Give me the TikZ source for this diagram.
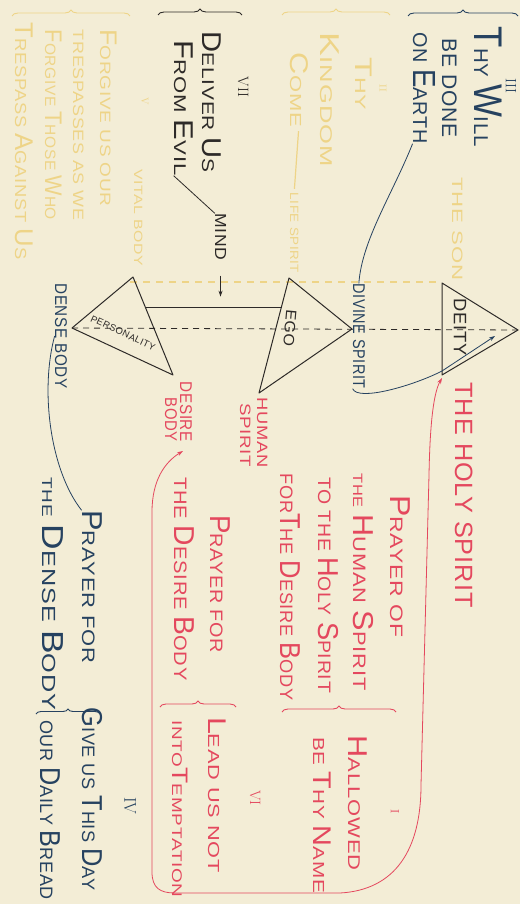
\documentclass[tikz,border=0pt]{standalone}
\usepackage{fontspec}
\usepackage{graphicx}
\usetikzlibrary{decorations.pathreplacing,arrows.meta}
\newfontfamily\hand{Liberation Sans}[LetterSpace=4]
\definecolor{bgc}{RGB}{243,237,214}
\definecolor{cblue}{RGB}{38,66,96}
\definecolor{cdark}{RGB}{45,42,40}
\definecolor{cred}{RGB}{228,72,94}
\definecolor{cyel}{RGB}{238,212,135}
\newcommand\Ini[1]{\scalebox{1.4}[1.6]{#1}}
\newcommand\Sm[1]{\scalebox{0.75}{#1}}
\newcommand\Wd[2]{\resizebox{#1pt}{\height}{#2}}
\begin{document}
\begin{tikzpicture}[x=1pt,y=-1pt,
  lbl/.style={rotate=-90,anchor=base,inner sep=0pt,font=\hand\fontsize{#1}{#1}\selectfont},
  num/.style={rotate=-90,anchor=center,inner sep=0pt,font=\fontsize{#1}{#1}\selectfont},
  tri/.style={cdark,line width=1pt,line join=round},
  brc/.style={decorate,decoration={brace,amplitude=#1,aspect=0.5},line width=0.9pt},
  arr/.style={-{Stealth[length=6pt,width=4pt]}},
  thinl/.style={line width=0.8pt}]
\useasboundingbox (0,0) rectangle (520,904);
\clip (0,0) rectangle (520,904);
\fill[bgc] (0,0) rectangle (520,904);

% ---------- faded yellow layer ----------
\draw[cyel,brc=6pt] (12,16) -- (130,16);
\draw[cyel,brc=6pt] (282,15) -- (390,15);
\node[num=10,cyel] (yv) at (145,101) {V};
\node[lbl=15,cyel] (f1) at (100,118) {\Wd{177}{\Ini{F}ORGIVE US OUR}};
\node[lbl=15,cyel] (f2) at (73,125) {\Wd{190}{TRESPASSES AS WE}};
\node[lbl=15,cyel] (f3) at (45,125) {\Wd{190}{\Ini{F}ORGIVE \Ini{T}HOSE \Ini{W}HO}};
\node[lbl=16,cyel] (f4) at (15,141) {\Wd{237}{\Ini{T}RESPASS \Ini{A}GAINST \Ini{U}S}};
\node[lbl=12,cyel] (vital) at (134,218) {\Wd{97}{VITAL BODY}};
\node[num=10,cyel] (n2) at (383,88) {II};
\node[lbl=15,cyel] (ythy) at (355,84) {\Wd{53}{\Ini{T}HY}};
\node[lbl=17,cyel] (king) at (320,100) {\Wd{134}{\Ini{K}INGDOM}};
\node[lbl=16,cyel] (come) at (290,90) {\Wd{74}{\Ini{C}OME}};
\node[lbl=12,cyel] (life) at (290,233) {\Wd{80}{LIFE SPIRIT}};
\node[lbl=15,cyel] (son) at (452,229) {\Wd{103}{THE SON}};
\draw[cyel,line width=1.2pt,shorten <=4pt,shorten >=4pt] (come.east) -- (life.west);
\coordinate (yA) at (130,282);
\coordinate (yB) at (442,282);
\draw[cyel,line width=1.3pt,dash pattern=on 7pt off 6pt] (yA) -- (yB);

% ---------- triangles ----------
\coordinate (pL) at (72,328);
\coordinate (pT) at (133,277);
\coordinate (pB) at (173,375);
\coordinate (eT) at (289,278);
\coordinate (eR) at (352,329);
\coordinate (eB) at (259,393);
\coordinate (dT) at (442,283);
\coordinate (dR) at (518,330);
\coordinate (dB) at (442,375);
\draw[tri] (pL) -- (pT) -- (pB) -- cycle;
\draw[tri] (eT) -- (eR) -- (eB) -- cycle;
\draw[tri] (dT) -- (dR) -- (dB) -- cycle;
\draw[cdark,thinl,dash pattern=on 6pt off 5pt] (pL) -- (dR);
\coordinate (pM) at (145.5,307);
\coordinate (eM) at (281.5,307);
\draw[cdark,thinl] (pM) -- (eM);

\node[rotate=-25,inner sep=0pt,font=\hand\fontsize{9.5}{9.5}\selectfont,cdark] (pers) at (123,333) {\Wd{70}{PERSONALITY}};
\node[rotate=-95,inner sep=0pt,font=\hand\fontsize{15}{15}\selectfont,cdark] (ego) at (290,328) {\Wd{37}{EGO}};
\node[rotate=-90,inner sep=0pt,font=\hand\fontsize{18}{18}\selectfont,cdark] (deity) at (460,327) {\Wd{57}{DEITY}};

% ---------- dark texts ----------
\draw[cdark,brc=6pt] (158,15) -- (242,15);
\node[num=15,cdark] (n7) at (243,87) {VII};
\node[lbl=17,cdark] (deliver) at (202,102) {\Wd{141}{\Ini{D}ELIVER \Ini{U}S}};
\node[lbl=17,cdark] (fromevil) at (174,108) {\Wd{135}{\Ini{F}ROM \Ini{E}VIL}};
\node[lbl=16,cdark] (mind) at (215,237) {\Wd{47}{MIND}};
\draw[cdark,thinl] (fromevil.south east) -- (mind.south west);
\draw[cdark,thinl,arr] ([yshift=-15pt]mind.east) -- ([yshift=-36pt]mind.east);

% ---------- blue texts ----------
\draw[cblue,brc=6pt] (408,16) -- (518,16);
\node[num=15,cblue] (n3) at (511,86) {III};
\node[lbl=20,cblue] (thy) at (474,87) {\Wd{120}{\scalebox{1.7}[2]{T}HY \scalebox{1.7}[2]{W}ILL}};
\node[lbl=21,cblue] (bedone) at (442,88) {\Wd{99}{BE DONE}};
\node[lbl=20,cblue] (onearth) at (413,88) {\Wd{111}{ON \Ini{E}ARTH}};
\node[lbl=17,cblue] (divine) at (353,336) {\Wd{105}{DIVINE SPIRIT}};
\node[lbl=17,cblue] (dense) at (55,336) {\Wd{105}{DENSE BODY}};
\node[lbl=18,cblue] (pfd) at (82,587) {\Wd{153}{\Ini{P}RAYER FOR}};
\node[lbl=19,cblue] (tdb) at (42,594) {\Wd{233}{\Sm{THE} \Ini{D}ENSE \Ini{B}ODY}};
\draw[cblue,brc=5pt] (36,714) -- (100,714);
\node[lbl=18,cblue] (give) at (82,799) {\Wd{183}{\Ini{G}IVE US \Ini{T}HIS \Ini{D}AY}};
\node[lbl=18,cblue] (our) at (40,810) {\Wd{180}{OUR \Ini{D}AILY \Ini{B}READ}};
\node[num=17,cblue] (n4) at (130,806) {IV};
\draw[cblue,thinl] (onearth.south east) .. controls (392,195) and (362,240) .. (divine.west);
\draw[cblue,thinl,arr] (divine.south east) .. controls (358,402) and (415,385) .. (442,371) -- (495,336);
\draw[cblue,thinl] (dense.south) .. controls (40,390) and (50,470) .. (pfd.south west);

% ---------- red texts ----------
\node[lbl=25,cred] (holy) at (455,495) {\Wd{225}{THE HOLY SPIRIT}};
\node[lbl=15,cred] (human) at (257,433) {\Wd{70}{HUMAN}};
\node[lbl=15,cred] (hspirit) at (240,435) {\Wd{64}{SPIRIT}};
\node[lbl=17,cred,anchor=base east] (desire) at (180,442) {\Wd{60}{DESIRE}};
\node[lbl=17,cred,anchor=base east] (dbody) at (165,442) {\Wd{44}{BODY}};
\node[lbl=18,cred] (prayerof) at (390,566) {\Wd{142}{\Ini{P}RAYER OF}};
\node[lbl=18,cred] (thehuman) at (353,582) {\Wd{217}{\Sm{THE} \Ini{H}UMAN \Ini{S}PIRIT}};
\node[lbl=18,cred] (tothe) at (318,585) {\Wd{216}{TO THE \Ini{H}OLY \Ini{S}PIRIT}};
\node[lbl=18,cred] (forthe) at (280,587) {\Wd{227}{FOR\Ini{T}HE \Ini{D}ESIRE \Ini{B}ODY}};
\draw[cred,brc=6pt] (282,712) -- (396,712);
\node[lbl=18,cred] (pfdes) at (210,584) {\Wd{138}{\Ini{P}RAYER FOR}};
\node[lbl=18,cred] (thedes) at (174,579) {\Wd{203}{THE \Ini{D}ESIRE \Ini{B}ODY}};
\draw[cred,brc=6pt] (160,707) -- (236,707);
\node[lbl=16,cred] (lead) at (208,795) {\Wd{156}{\Ini{L}EAD US NOT}};
\node[lbl=14,cred] (into) at (172,809) {\Wd{177}{INTO\Ini{T}EMPTATION}};
\node[num=15,cred] (n6) at (255,798) {VI};
\node[lbl=17,cred] (hallowed) at (348,803) {\Wd{135}{\Ini{H}ALLOWED}};
\node[lbl=16,cred] (bethy) at (313,815) {\Wd{156}{BE \Ini{T}HY \Ini{N}AME}};
\node[num=12,cred] (n1) at (395,812) {I};
\coordinate (desArr) at (183,451);
\coordinate (holyArr) at (442,378);
\draw[cred,thinl,{Stealth[length=6pt,width=4pt]}-{Stealth[length=6pt,width=4pt]}] (desArr) .. controls (165,462) and (152,480) .. (152,512) -- (152,872) .. controls (152,888) and (160,893) .. (175,893) -- (340,893) .. controls (395,890) and (421,850) .. (421,785) -- (429,475) .. controls (430,420) and (434,392) .. (holyArr);
\end{tikzpicture}
\end{document}
